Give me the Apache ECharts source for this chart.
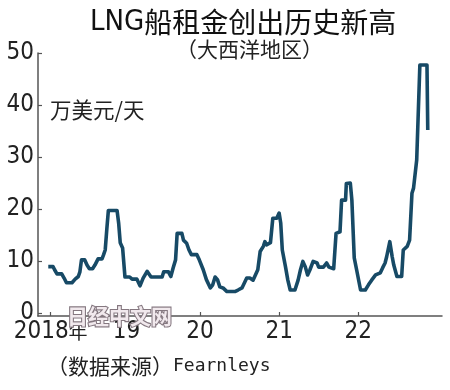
<!DOCTYPE html>
<html>
<head>
<meta charset="utf-8">
<script src="https://cdn.jsdelivr.net/npm/echarts@6/dist/echarts.min.js"></script>
<style>html,body{margin:0;padding:0;background:#fff}#c{width:450px;height:390px}</style>
</head>
<body>
<div id="c"></div>
<script>
// Data (decimal year, 10k USD/day)
const years = [2018.08, 2018.14, 2018.16, 2018.19, 2018.25, 2018.28, 2018.31, 2018.38, 2018.42, 2018.46, 2018.48, 2018.50, 2018.54, 2018.57, 2018.60, 2018.64, 2018.67, 2018.71, 2018.76, 2018.78, 2018.80, 2018.82, 2018.84, 2018.95, 2018.97, 2018.99, 2019.02, 2019.05, 2019.11, 2019.14, 2019.20, 2019.24, 2019.28, 2019.33, 2019.35, 2019.38, 2019.52, 2019.54, 2019.60, 2019.63, 2019.66, 2019.69, 2019.71, 2019.77, 2019.79, 2019.83, 2019.86, 2019.89, 2019.96, 2019.99, 2020.04, 2020.08, 2020.13, 2020.16, 2020.19, 2020.22, 2020.25, 2020.29, 2020.34, 2020.44, 2020.48, 2020.53, 2020.59, 2020.63, 2020.67, 2020.70, 2020.73, 2020.76, 2020.80, 2020.82, 2020.84, 2020.89, 2020.92, 2020.97, 2021.00, 2021.02, 2021.04, 2021.08, 2021.11, 2021.14, 2021.20, 2021.24, 2021.27, 2021.30, 2021.33, 2021.36, 2021.39, 2021.43, 2021.48, 2021.50, 2021.56, 2021.60, 2021.63, 2021.69, 2021.72, 2021.77, 2021.79, 2021.84, 2021.85, 2021.90, 2021.92, 2021.95, 2021.98, 2022.03, 2022.09, 2022.13, 2022.17, 2022.22, 2022.28, 2022.31, 2022.34, 2022.36, 2022.40, 2022.43, 2022.45, 2022.49, 2022.55, 2022.57, 2022.62, 2022.65, 2022.68, 2022.70, 2022.74, 2022.78, 2022.87, 2022.88];
const rates = [8.9, 8.9, 8.3, 7.5, 7.5, 6.7, 5.8, 5.8, 6.5, 7.0, 7.9, 10.2, 10.2, 9.2, 8.5, 8.5, 9.2, 10.4, 10.4, 11.2, 12.1, 16.0, 19.7, 19.7, 17.3, 13.5, 12.5, 6.9, 6.9, 6.5, 6.5, 5.2, 6.7, 8.0, 8.0, 6.9, 6.9, 7.9, 7.9, 7.0, 8.7, 10.2, 15.3, 15.3, 14.0, 13.4, 12.1, 11.2, 11.2, 10.2, 8.3, 6.4, 4.8, 5.4, 6.9, 6.4, 5.0, 4.8, 4.1, 4.1, 4.4, 4.8, 6.7, 6.7, 6.3, 7.3, 8.3, 11.8, 12.8, 13.7, 13.1, 13.5, 18.2, 18.2, 19.2, 17.3, 12.1, 8.9, 6.3, 4.4, 4.4, 6.3, 8.3, 9.9, 8.9, 7.3, 8.3, 9.9, 9.6, 8.8, 8.8, 9.6, 8.8, 8.5, 15.3, 15.6, 21.7, 21.7, 24.9, 25.0, 21.7, 10.6, 8.3, 4.4, 4.4, 5.4, 6.3, 7.3, 7.7, 8.7, 9.6, 10.8, 13.7, 10.8, 9.2, 7.0, 7.0, 12.1, 12.8, 14.0, 23.0, 24.0, 29.4, 47.7, 47.7, 35.2];
const xTickYears = [2018.11, 2019.07, 2020, 2021, 2022];
const xTickLabels = ['2018年', '19', '20', '21', '22'];
const yTicks = [0, 10, 20, 30, 40, 50];

const NARROW = '"Liberation Sans Narrow","DejaVu Sans Condensed","Liberation Sans",sans-serif';
const CJK = '"Noto Sans CJK SC","Noto Sans CJK JP",sans-serif';

const chart = echarts.init(document.getElementById('c'), null, {renderer: 'canvas'});
chart.setOption({
  animation: false,
  backgroundColor: '#fff',
  grid: {left: 38, right: 8, top: 53, bottom: 74, containLabel: false},
  xAxis: {
    type: 'value', min: 2017.95, max: 2023.06,
    splitLine: {show: false},
    axisLine: {show: true, onZero: false, lineStyle: {color: '#555', width: 1.5}},
    axisTick: {show: true, inside: true, length: 4, customValues: xTickYears, lineStyle: {color: '#555', width: 1.2}},
    axisLabel: {
      show: true, customValues: xTickYears, margin: 4,
      color: '#222', fontFamily: NARROW, fontSize: 24,
      formatter: function (v) {
        for (let i = 0; i < xTickYears.length; i++) {
          if (Math.abs(xTickYears[i] - v) < 0.001) {
            const s = xTickLabels[i];
            return s.endsWith('年') ? '{n|' + s.slice(0, -1) + '}{c|年}' : '{n|' + s + '}';
          }
        }
        return '';
      },
      rich: {
        n: {fontFamily: NARROW, fontSize: 24, color: '#222'},
        c: {fontFamily: CJK, fontSize: 19, color: '#222'}
      }
    }
  },
  yAxis: {
    type: 'value', min: -0.6, max: 50,
    splitLine: {show: false},
    axisLine: {show: true, onZero: false, lineStyle: {color: '#555', width: 1.5}},
    axisTick: {show: true, inside: true, length: 4, customValues: yTicks, lineStyle: {color: '#555', width: 1.2}},
    axisLabel: {show: true, customValues: yTicks, margin: 4, color: '#222', fontFamily: NARROW, fontSize: 24}
  },
  series: [{
    type: 'line',
    data: years.map((y, i) => [y, rates[i]]),
    showSymbol: false,
    lineStyle: {color: '#174a66', width: 3.6, join: 'round'},
    z: 3
  }],
  graphic: [
    {type: 'text', left: 90, top: 8, style: {
      text: '{a|LNG}{b|船租金创出历史新高}',
      rich: {
        a: {fontFamily: NARROW, fontSize: 29, fill: '#111'},
        b: {fontFamily: CJK, fontSize: 28, fill: '#111'}
      }
    }},
    {type: 'text', left: 176, top: 39, style: {text: '（大西洋地区）', fontFamily: CJK, fontSize: 21, fill: '#222'}},
    {type: 'text', left: 50, top: 99, style: {text: '万美元/天', fontFamily: CJK, fontSize: 21.5, fill: '#222'}},
    {type: 'text', left: 47, top: 356, style: {
      text: '{a|（数据来源）}{b|Fearnleys}',
      rich: {
        a: {fontFamily: CJK, fontSize: 21, fill: '#222'},
        b: {fontFamily: '"DejaVu Sans Mono","Liberation Mono",monospace', fontSize: 18, fill: '#222'}
      }
    }},
    {type: 'text', left: 66, top: 304, z: 100, style: {
      text: '日经中文网', fontFamily: CJK, fontSize: 21, fontWeight: 'bold',
      fill: '#f1e9ed', stroke: '#857880', lineWidth: 2.2
    }}
  ]
});
</script>
</body>
</html>
